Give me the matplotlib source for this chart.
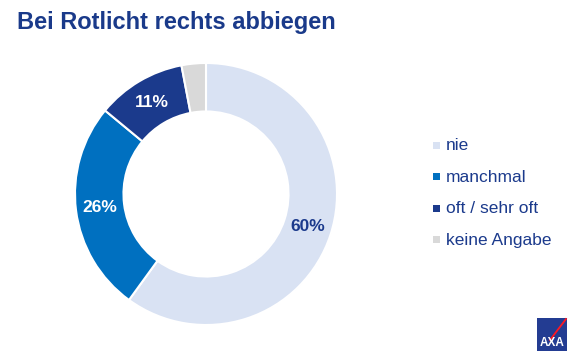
import numpy as np
import matplotlib.pyplot as plt
from matplotlib.patches import Rectangle
from matplotlib.lines import Line2D

plt.rcParams['font.family'] = ['Liberation Sans', 'DejaVu Sans']

labels = ['nie', 'manchmal', 'oft / sehr oft', 'keine Angabe']
values = [60, 26, 11, 3]
colors = ['#D9E2F3', '#0070C0', '#1B3A8C', '#D9D9D9']
pct_text = ['60%', '26%', '11%', '']
pct_colors = ['#1B3A8C', 'white', 'white', 'white']
navy = '#1B3A8C'

fig = plt.figure(figsize=(5.82, 3.64), dpi=100)
fig.patch.set_facecolor('white')

ax = fig.add_axes([75 / 582, (364 - 194 - 131) / 364, 262 / 582, 262 / 364])
wedges, _ = ax.pie(values, colors=colors, startangle=90, counterclock=False,
                   radius=1.0, wedgeprops=dict(width=0.37, edgecolor='white', linewidth=1.5))
ax.set_aspect('equal')
ax.set_xlim(-1, 1)
ax.set_ylim(-1, 1)

cum = 0
for v, t, c in zip(values, pct_text, pct_colors):
    mid = 90 - (cum + v / 2) / 100 * 360
    cum += v
    if t:
        r = 0.815
        ax.text(r * np.cos(np.radians(mid)), r * np.sin(np.radians(mid)), t,
                ha='center', va='center', color=c, fontsize=12.5, fontweight='bold')

fig.text(17 / 582, 1 - 22 / 364, 'Bei Rotlicht rechts abbiegen', ha='left', va='center',
         fontsize=17, fontweight='bold', color='#1A3A8A')

# legend
ys = [146, 177, 209, 240]
for lab, col, y in zip(labels, colors, ys):
    fig.patches.append(Rectangle((433 / 582, 1 - (y + 3) / 364), 7 / 582, 7 / 364,
                                 transform=fig.transFigure, facecolor=col, edgecolor='none'))
    fig.text(446 / 582, 1 - y / 364, lab, ha='left', va='center', fontsize=12.5, color=navy)

# AXA logo
fig.patches.append(Rectangle((537 / 582, 1 - 351 / 364), 30 / 582, 33 / 364,
                             transform=fig.transFigure, facecolor='#233C92', edgecolor='none'))
fig.lines.append(Line2D([550 / 582, 566 / 582], [1 - 340 / 364, 1 - 319 / 364],
                        transform=fig.transFigure, color='#FF1721', linewidth=1.3))
fig.text(552 / 582, 1 - 343 / 364, 'AXA', ha='center', va='center', fontsize=8.5,
         fontweight='bold', color='white')

fig.savefig('out.png', dpi=100)
